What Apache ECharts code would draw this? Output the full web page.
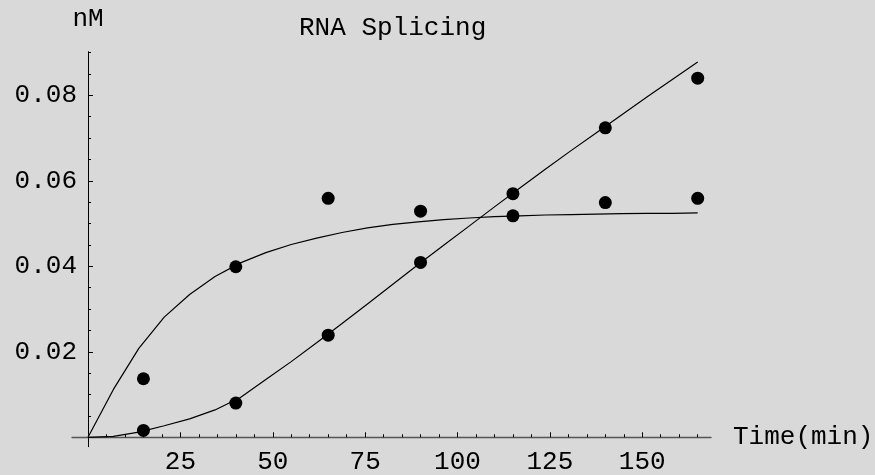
<!DOCTYPE html>
<html>
<head>
<meta charset="utf-8">
<script src="https://cdn.jsdelivr.net/npm/echarts@6/dist/echarts.min.js"></script>
<style>
  html, body { margin: 0; padding: 0; background: #d9d9d9; }
  #chart { width: 875px; height: 475px; }
</style>
</head>
<body>
<div id="chart"></div>
<script>
  // measured points (min, nM)
  const timePoints = [15, 40, 65, 90, 115, 140, 165];
  const splicedObs = [0.0016, 0.0080, 0.0239, 0.0409, 0.0570, 0.0724, 0.0840];
  const intermediateObs = [0.0137, 0.0399, 0.0559, 0.0529, 0.0518, 0.0549, 0.0559];

  // fitted curves
  const fitTime = [0, 6.875, 13.75, 20.625, 27.5, 34.375, 41.25, 48.125, 55, 61.875, 68.75, 75.625,
    82.5, 89.375, 96.25, 103.125, 110, 116.875, 123.75, 130.625, 137.5, 144.375, 151.25, 158.125, 165];
  const splicedFit = [0, 0.0002, 0.0012, 0.0027, 0.0043, 0.0064, 0.0093, 0.0135, 0.0177, 0.0221, 0.0266, 0.0312,
    0.0358, 0.0404, 0.0449, 0.0494, 0.0539, 0.0583, 0.0627, 0.0670, 0.0712, 0.0754, 0.0796, 0.0837, 0.0878];
  const intermediateFit = [0, 0.0112, 0.0208, 0.0281, 0.0334, 0.0376, 0.0408, 0.0432, 0.0451, 0.0466, 0.0479, 0.0490,
    0.0498, 0.0504, 0.0509, 0.0513, 0.0516, 0.0518, 0.0520, 0.0521, 0.0522, 0.0523, 0.0524, 0.0524, 0.0525];

  // ticks
  const xMajorTicks = [25, 50, 75, 100, 125, 150];
  const xMinorTicks = [5, 10, 15, 20, 30, 35, 40, 45, 55, 60, 65, 70, 80, 85, 90, 95, 105, 110, 115, 120,
    130, 135, 140, 145, 155, 160, 165];
  const yMajorTicks = [0.02, 0.04, 0.06, 0.08];
  const yMinorTicks = [0.005, 0.01, 0.015, 0.025, 0.03, 0.035, 0.045, 0.05, 0.055, 0.065, 0.07, 0.075, 0.085, 0.09];

  const font = 'Liberation Mono';
  const pairs = (xs, ys) => xs.map((x, i) => [x, ys[i]]);

  const chart = echarts.init(document.getElementById('chart'));
  const xRange = { min: -4.33, max: 168.6 };
  const yRange = { min: -0.0022, max: 0.0902 };

  const option = {
    backgroundColor: '#d9d9d9',
    animation: false,
    title: {
      text: 'RNA Splicing',
      left: 294,
      top: 10,
      textStyle: { fontFamily: font, fontSize: 26, fontWeight: 'normal', color: '#000' }
    },
    grid: { left: 72, right: 164, top: 51.7, bottom: 28.3, containLabel: false, outerBoundsMode: 'none' },
    xAxis: [
      {
        type: 'value', position: 'bottom', ...xRange,
        name: 'Time(min)', nameLocation: 'end', nameGap: 22,
        nameTextStyle: { fontFamily: font, fontSize: 26, color: '#000' },
        axisLine: { onZero: true, lineStyle: { color: '#555', width: 1.3 } },
        axisTick: { show: true, inside: true, length: 5, customValues: xMajorTicks, lineStyle: { color: '#000', width: 1 } },
        axisLabel: { customValues: xMajorTicks, margin: 2, fontFamily: font, fontSize: 26, color: '#000' },
        splitLine: { show: false }
      },
      {
        type: 'value', position: 'bottom', ...xRange,
        axisLine: { show: false, onZero: true },
        axisTick: { show: true, inside: true, length: 3, customValues: xMinorTicks, lineStyle: { color: '#000', width: 1 } },
        axisLabel: { show: false },
        splitLine: { show: false }
      }
    ],
    yAxis: [
      {
        type: 'value', position: 'left', ...yRange,
        name: 'nM', nameLocation: 'end', nameGap: 20,
        nameTextStyle: { fontFamily: font, fontSize: 26, color: '#000', align: 'center' },
        axisLine: { onZero: true, lineStyle: { color: '#000', width: 1 } },
        axisTick: { show: true, inside: true, length: 5, customValues: yMajorTicks, lineStyle: { color: '#000', width: 1 } },
        axisLabel: { customValues: yMajorTicks, margin: -5, align: 'right', fontFamily: font, fontSize: 26, color: '#000' },
        splitLine: { show: false }
      },
      {
        type: 'value', position: 'left', ...yRange,
        axisLine: { show: false, onZero: true },
        axisTick: { show: true, inside: true, length: 3, customValues: yMinorTicks, lineStyle: { color: '#000', width: 1 } },
        axisLabel: { show: false },
        splitLine: { show: false }
      }
    ],
    series: [
      {
        type: 'line', data: pairs(fitTime, splicedFit), showSymbol: false,
        lineStyle: { color: '#000', width: 1.2 }
      },
      {
        type: 'line', data: pairs(fitTime, intermediateFit), showSymbol: false,
        lineStyle: { color: '#000', width: 1.2 }
      },
      {
        type: 'scatter', data: pairs(timePoints, splicedObs), symbolSize: 13,
        itemStyle: { color: '#000', opacity: 1 }
      },
      {
        type: 'scatter', data: pairs(timePoints, intermediateObs), symbolSize: 13,
        itemStyle: { color: '#000', opacity: 1 }
      }
    ]
  };
  chart.setOption(option);
</script>
</body>
</html>
